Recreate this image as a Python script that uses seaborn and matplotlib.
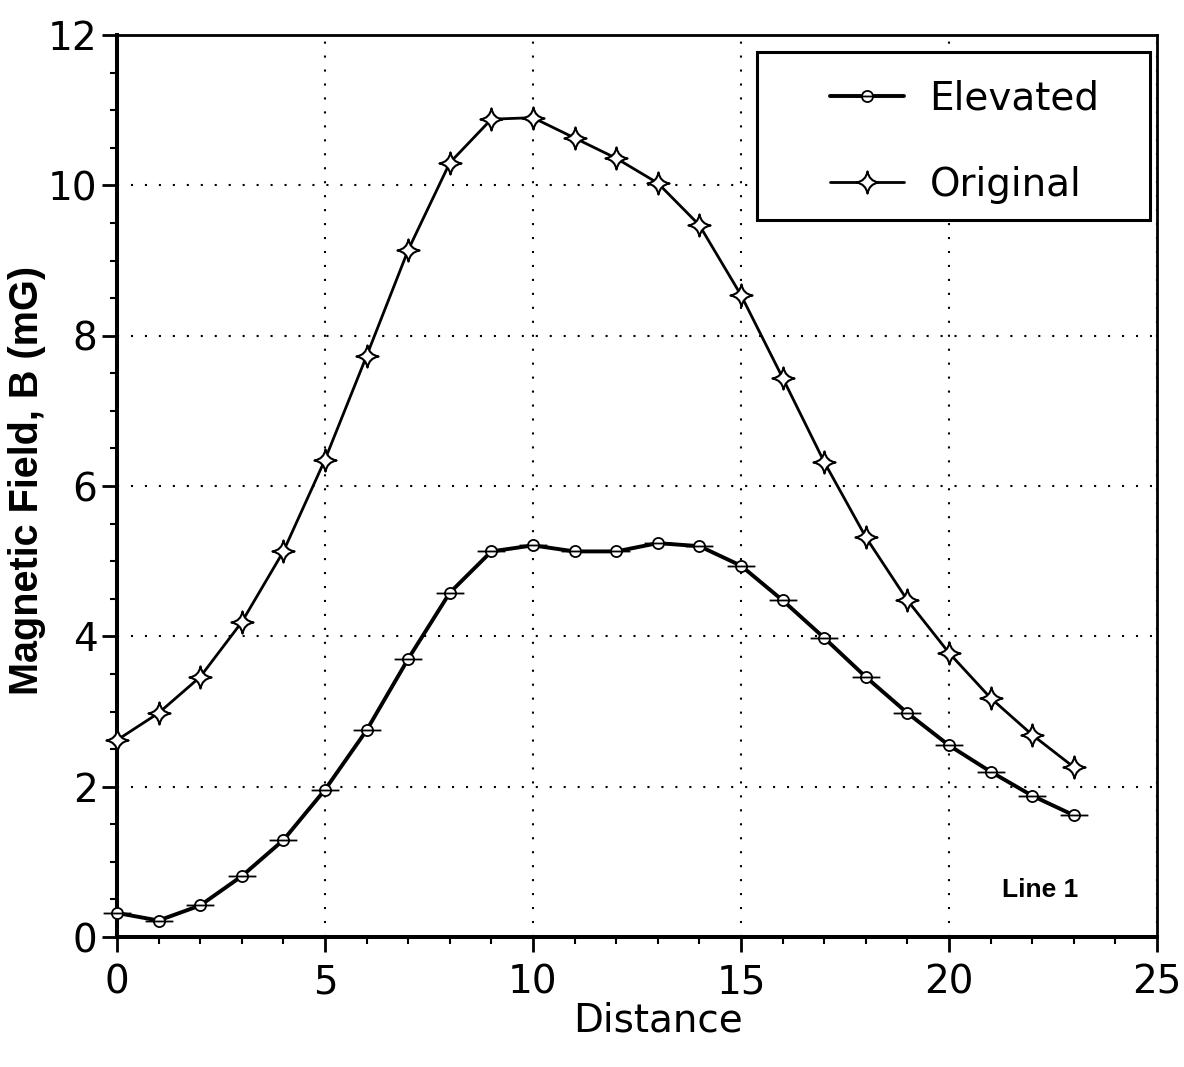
import numpy as np
import pandas as pd
import matplotlib
matplotlib.use("Agg")
import matplotlib.pyplot as plt
from matplotlib.path import Path
from matplotlib.patches import Rectangle
from matplotlib.ticker import MultipleLocator
import seaborn as sns

# ---- data ----
distance = list(range(24))
elevated = [0.32, 0.22, 0.42, 0.81, 1.29, 1.96, 2.75, 3.70, 4.58, 5.13, 5.21, 5.13,
            5.13, 5.24, 5.20, 4.94, 4.48, 3.98, 3.46, 2.98, 2.55, 2.20, 1.88, 1.62]
original = [2.62, 2.98, 3.46, 4.19, 5.13, 6.35, 7.73, 9.14, 10.30, 10.88, 10.90, 10.63,
            10.36, 10.03, 9.47, 8.54, 7.44, 6.32, 5.32, 4.48, 3.78, 3.18, 2.69, 2.26]
series_names = ["Elevated", "Original"]
x_ticks = [0, 5, 10, 15, 20, 25]
y_ticks = [0, 2, 4, 6, 8, 10, 12]

df_e = pd.DataFrame({"Distance": distance, "B": elevated})
df_o = pd.DataFrame({"Distance": distance, "B": original})

sns.set_theme(style="ticks")
plt.rcParams["font.family"] = ["DejaVu Sans"]
plt.rcParams["text.color"] = "black"

# custom markers
star = Path([(0, 1), (0.14, 0.14), (1, 0), (0.14, -0.14), (0, -1),
             (-0.14, -0.14), (-1, 0), (-0.14, 0.14), (0, 1), (0, 1)],
            [Path.MOVETO, Path.CURVE3, Path.CURVE3, Path.CURVE3, Path.CURVE3,
             Path.CURVE3, Path.CURVE3, Path.CURVE3, Path.CURVE3, Path.CLOSEPOLY])
circ = Path.unit_circle()
circ = Path(circ.vertices * 0.40, circ.codes)
dash = Path([(-1, 0), (1, 0)], [Path.MOVETO, Path.LINETO])
circle_dash = Path.make_compound_path(circ, dash)

fig = plt.figure(figsize=(11.84, 10.67), dpi=100)
ax = fig.add_axes([0.0988, 0.1218, 0.8784, 0.8454])

sns.lineplot(data=df_e, x="Distance", y="B", ax=ax, color="black", lw=2.8,
             marker=circle_dash, markersize=20, markerfacecolor="white",
             markeredgecolor="black", markeredgewidth=1.3, label=series_names[0],
             clip_on=False, zorder=3)
sns.lineplot(data=df_o, x="Distance", y="B", ax=ax, color="black", lw=2.0,
             marker=star, markersize=16, markerfacecolor="white",
             markeredgecolor="black", markeredgewidth=1.5, label=series_names[1],
             clip_on=False, zorder=3)

ax.set_xlim(0, 25)
ax.set_ylim(0, 12)
ax.set_xticks(x_ticks)
ax.set_yticks(y_ticks)
ax.xaxis.set_minor_locator(MultipleLocator(1))
ax.yaxis.set_minor_locator(MultipleLocator(0.5))
ax.tick_params(axis="both", which="major", direction="out", length=11, width=2,
               labelsize=28, color="black", labelcolor="black")
ax.tick_params(axis="x", which="major", pad=8)
ax.tick_params(axis="y", which="major", pad=3)
ax.tick_params(axis="both", which="minor", direction="out", length=5, width=1.5,
               color="black")

ax.grid(True, which="major", color="black", linestyle=(0, (1, 5.7)), linewidth=1.5)
ax.set_axisbelow(True)

for side in ["left", "bottom"]:
    ax.spines[side].set_linewidth(2.9)
    ax.spines[side].set_color("black")
for side in ["top", "right"]:
    ax.spines[side].set_visible(True)
    ax.spines[side].set_linewidth(2.0)
    ax.spines[side].set_color("black")

ax.set_xlabel("Distance", fontsize=28, color="black")
ax.xaxis.set_label_coords(0.52, -0.071)
ax.set_ylabel("Magnetic Field, B (mG)", fontsize=28.5, fontweight="bold",
              family=["Liberation Sans", "DejaVu Sans"], color="black")
ax.yaxis.set_label_coords(-0.068, 0.506)

ax.text(0.888, 0.052, "Line 1", transform=ax.transAxes, fontsize=19,
        fontweight="bold", family=["Liberation Sans", "DejaVu Sans"],
        ha="center", va="center", color="black")

# legend box (frame drawn as a rectangle to match the reference proportions)
ax.add_patch(Rectangle((0.615, 0.795), 0.378, 0.186, transform=ax.transAxes,
                       facecolor="white", edgecolor="black", linewidth=2.2,
                       zorder=4, clip_on=False))
leg = ax.legend(loc="center left", bbox_to_anchor=(0.686, 0.882), borderaxespad=0,
                fontsize=28, frameon=False, handlelength=1.9, handletextpad=0.65,
                labelspacing=1.25, borderpad=0, labelcolor="black")
leg.set_zorder(5)

fig.savefig("out.png", dpi=100)
